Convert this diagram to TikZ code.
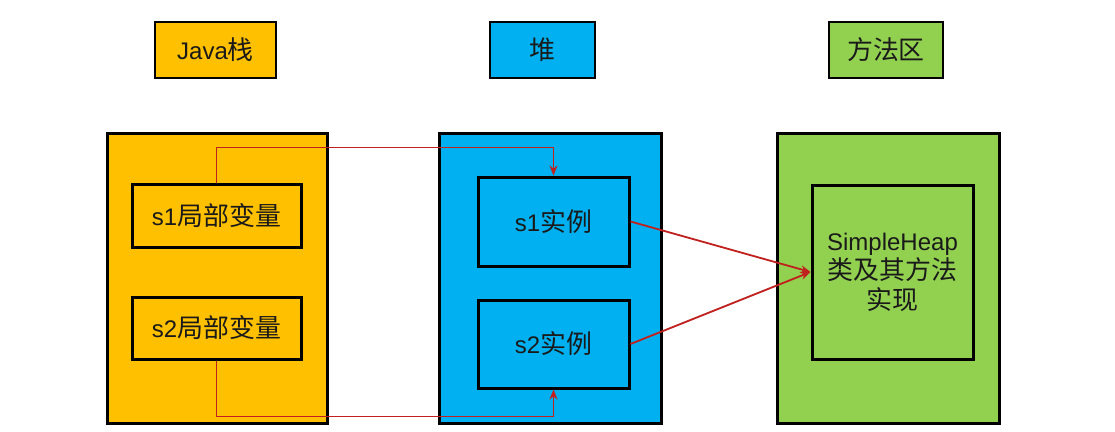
\documentclass[tikz,border=0pt]{standalone}
\usepackage{fontspec}
\setmainfont{Liberation Sans}
\newfontfamily\cjk{Noto Sans CJK SC}[Scale=1.08]
\usetikzlibrary{arrows.meta}
\definecolor{jorange}{HTML}{FFC000}
\definecolor{jblue}{HTML}{00B0F0}
\definecolor{jgreen}{HTML}{92D050}
\definecolor{jred}{HTML}{C0201E}
\definecolor{jtext}{HTML}{1A1A1A}
\tikzset{
  box/.style={draw=black, line width=3pt, inner sep=0pt, text=jtext, font=\fontsize{24}{29.5}\selectfont, align=center},
  hdr/.style={box, line width=2.6pt},
  link/.style={draw=jred, line width=1.8pt, -{Stealth[length=10pt,width=8pt]}}
}
\begin{document}
\begin{tikzpicture}[x=1pt,y=-1pt]
\useasboundingbox (0,0) rectangle (1115,431);
% headers
\node[hdr, fill=jorange, minimum width=121pt, minimum height=56pt] (javah) at (215.5,50) {Java{\cjk 栈}};
\node[hdr, fill=jblue, minimum width=105pt, minimum height=56pt] (heaph) at (542.5,50) {\cjk 堆};
\node[hdr, fill=jgreen, minimum width=114pt, minimum height=56pt] (methh) at (886,50) {\cjk 方法区};
% main areas
\node[box, fill=jorange, minimum width=220pt, minimum height=290pt] (java) at (217,278.5) {};
\node[box, fill=jblue, minimum width=222pt, minimum height=290pt] (heap) at (550,278.5) {};
\node[box, fill=jgreen, minimum width=222pt, minimum height=290pt] (meth) at (888,278.5) {};
% inner boxes
\node[box, fill=jorange, minimum width=169pt, minimum height=63pt] (s1v) at (216.5,215.5) {s1{\cjk 局部变量}};
\node[box, fill=jorange, minimum width=169pt, minimum height=62pt] (s2v) at (216.5,328) {s2{\cjk 局部变量}};
\node[box, fill=jblue, minimum width=151pt, minimum height=89pt] (s1i) at (553.5,221.5) {s1{\cjk 实例}};
\node[box, fill=jblue, minimum width=151pt, minimum height=88pt] (s2i) at (553.5,344) {s2{\cjk 实例}};
\node[box, fill=jgreen, minimum width=161pt, minimum height=174pt] (cls) at (892.5,272) {SimpleHeap\\{\cjk 类及其方法}\\{\cjk 实现}};
% connectors
\draw[link] (s1v.north) -- ++(0,-35) -| (s1i.north);
\draw[link] (s2v.south) -- ++(0,56) -| (s2i.south);
\draw[link] (s1i.east) -- (cls.west);
\draw[link] (s2i.east) -- (cls.west);
\end{tikzpicture}
\end{document}
